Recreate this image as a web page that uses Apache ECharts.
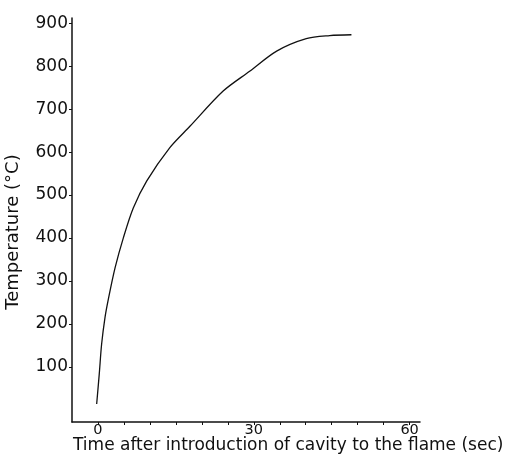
<!DOCTYPE html>
<html>
<head>
<meta charset="utf-8">
<script src="https://cdn.jsdelivr.net/npm/echarts@6/dist/echarts.min.js"></script>
<style>html,body{margin:0;padding:0;background:#fff;}#c{width:507px;height:469px;}</style>
</head>
<body>
<div id="c"></div>
<script>
const timeSec = [-0.25, 0.25, 0.7, 1.35, 2.0, 3.3, 4.9, 6.8, 9.4, 13.8, 17.7, 24.1, 29.2, 34.4, 40.1, 44.6, 48.8];
const tempC   = [14, 84, 153, 215, 258, 331, 401, 470, 533, 610, 660, 742, 788, 835, 864, 871, 873];
const xTickLabels = [0, 30, 60];
const xMinorTicks = [0, 5, 10, 15, 20, 25, 30, 35, 40, 45, 50, 55, 60];
const yTickLabels = [100, 200, 300, 400, 500, 600, 700, 800, 900];
const xTitle = 'Time after introduction of cavity to the flame (sec)';

const font = 'DejaVu Sans';
const chart = echarts.init(document.getElementById('c'));
chart.setOption({
  animation: false,
  backgroundColor: '#fff',
  title: {
    text: xTitle, left: 73, top: 437, padding: 0,
    textStyle: { color: '#111', fontFamily: font, fontSize: 17, fontWeight: 'normal' }
  },
  grid: { left: 72, right: 87, top: 18, bottom: 47, containLabel: false, outerBoundsMode: 'none' },
  xAxis: {
    type: 'value', min: -5, max: 62,
    splitLine: { show: false },
    axisLine: { onZero: false, lineStyle: { color: '#111', width: 1.5 } },
    axisTick: { customValues: xMinorTicks, length: 3, lineStyle: { color: '#111', width: 1 } },
    axisLabel: { customValues: xTickLabels, color: '#111', fontFamily: font, fontSize: 14.5, margin: 1 }
  },
  yAxis: {
    type: 'value', min: -28, max: 912,
    splitLine: { show: false },
    axisLine: { onZero: false, lineStyle: { color: '#111', width: 1.5 } },
    axisTick: { customValues: yTickLabels, length: 3, lineStyle: { color: '#111', width: 1 } },
    axisLabel: { customValues: yTickLabels, color: '#111', fontFamily: font, fontSize: 17, margin: 4 },
    name: 'Temperature (°C)',
    nameLocation: 'middle', nameGap: 50,
    nameTextStyle: { color: '#111', fontFamily: font, fontSize: 18, padding: [0, 24, 0, 0] }
  },
  series: [{
    type: 'line',
    data: timeSec.map((t, i) => [t, tempC[i]]),
    smooth: 0.3,
    showSymbol: false,
    lineStyle: { color: '#111', width: 1.3 }
  }]
});
</script>
</body>
</html>
